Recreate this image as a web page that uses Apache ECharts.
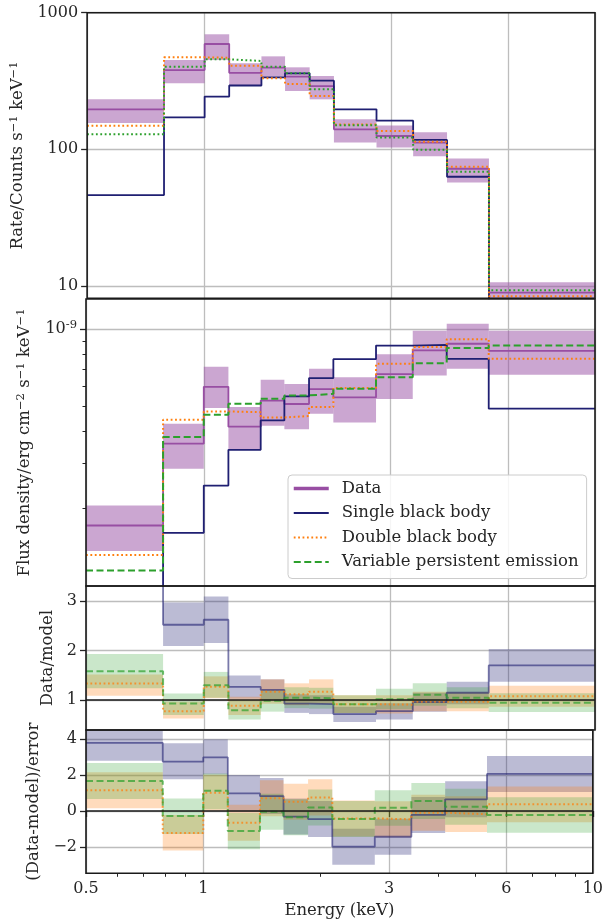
<!DOCTYPE html>
<html>
<head>
<meta charset="utf-8">
<script src="https://cdn.jsdelivr.net/npm/echarts@6/dist/echarts.min.js"></script>
<style>html,body{margin:0;padding:0;background:#fff}#c{width:606px;height:923px}</style>
</head>
<body>
<div id="c"></div>
<script>
// ---- Data ----
const EDGES = [0.5, 0.787, 1.0, 1.156, 1.398, 1.607, 1.858, 2.144, 2.756, 3.421, 4.178, 5.35, 10];
const X_TICKS = [0.5, 1, 3, 6, 10];
const X_MINOR = [0.6, 0.7, 0.8, 0.9, 2, 4, 5, 7, 8, 9];

// Panel 1: rate (counts s^-1 keV^-1)
const RATE_DATA    = [196, 380, 590, 363, 396, 340, 290, 140, 125, 112, 72, 8.9];
const RATE_DATA_LO = [156, 304, 450, 295, 340, 267, 232, 112, 103, 89, 57.2, 7.0];
const RATE_DATA_HI = [232, 450, 695, 426, 479, 398, 344, 166, 149, 133, 85.7, 10.6];
const RATE_SB = [46.2, 171, 243, 293, 336, 360, 318, 196, 162, 117, 62.9, 5.3];
const RATE_DB = [148.6, 471, 468, 409, 331, 301, 245, 152, 136, 113.5, 74.5, 8.4];
const RATE_VP = [129, 402, 456, 443, 402, 360, 275, 150, 122, 99, 68.4, 9.29];
const RATE_TICKS = [10, 100, 1000];

// Panel 2: flux density (erg cm^-2 s^-1 keV^-1)
const FLUX_DATA    = [1.72e-10, 3.58e-10, 5.96e-10, 4.17e-10, 5.27e-10, 5.11e-10, 5.84e-10, 5.42e-10, 6.68e-10, 8.26e-10, 8.77e-10, 8.23e-10];
const FLUX_DATA_LO = [1.37e-10, 2.86e-10, 4.93e-10, 3.39e-10, 4.21e-10, 4.08e-10, 4.68e-10, 4.33e-10, 5.34e-10, 6.60e-10, 7.01e-10, 6.64e-10];
const FLUX_DATA_HI = [2.06e-10, 4.28e-10, 7.13e-10, 4.97e-10, 6.35e-10, 6.11e-10, 7.01e-10, 6.50e-10, 7.99e-10, 9.85e-10, 1.049e-9, 9.85e-10];
const FLUX_SB = [4.1e-11, 1.61e-10, 2.46e-10, 3.39e-10, 4.41e-10, 5.47e-10, 6.45e-10, 7.64e-10, 8.63e-10, 8.69e-10, 7.66e-10, 4.90e-10];
const FLUX_DB = [1.32e-10, 4.44e-10, 4.78e-10, 4.75e-10, 4.53e-10, 4.59e-10, 4.97e-10, 5.90e-10, 7.33e-10, 8.51e-10, 9.14e-10, 7.66e-10];
const FLUX_VP = [1.15e-10, 3.80e-10, 4.64e-10, 5.12e-10, 5.36e-10, 5.52e-10, 5.60e-10, 5.86e-10, 6.50e-10, 7.37e-10, 8.44e-10, 8.63e-10];
const FLUX_TICKS = [1e-9];
const FLUX_MINOR = [2e-10, 3e-10, 4e-10, 5e-10, 6e-10, 7e-10, 8e-10, 9e-10];

// Panel 3: data/model
const RATIO_SB    = [4.2, 2.52, 2.62, 1.27, 1.21, 0.93, 0.92, 0.72, 0.78, 0.96, 1.15, 1.70];
const RATIO_SB_LO = [3.4, 2.09, 2.15, 1.03, 1.00, 0.745, 0.72, 0.56, 0.61, 0.77, 0.92, 1.37];
const RATIO_SB_HI = [5.0, 2.97, 3.09, 1.50, 1.42, 1.12, 1.10, 0.87, 0.94, 1.15, 1.37, 2.03];
const RATIO_DB    = [1.336, 0.78, 1.27, 0.89, 1.17, 1.12, 1.17, 0.92, 0.91, 0.97, 0.97, 1.08];
const RATIO_DB_LO = [1.09, 0.63, 1.04, 0.70, 0.93, 0.90, 0.93, 0.74, 0.73, 0.78, 0.78, 0.87];
const RATIO_DB_HI = [1.52, 0.97, 1.48, 1.07, 1.42, 1.34, 1.42, 1.10, 1.10, 1.17, 1.16, 1.29];
const RATIO_VP    = [1.584, 0.933, 1.30, 0.80, 0.99, 1.05, 1.04, 0.92, 1.02, 1.11, 1.05, 0.95];
const RATIO_VP_LO = [1.24, 0.70, 1.05, 0.61, 0.77, 0.84, 0.83, 0.74, 0.82, 0.89, 0.84, 0.76];
const RATIO_VP_HI = [1.93, 1.135, 1.57, 1.00, 1.20, 1.26, 1.25, 1.10, 1.23, 1.34, 1.26, 1.14];
const RATIO_TICKS = [1, 2, 3];

// Panel 4: (data-model)/error
const RES_SB    = [3.79, 2.74, 2.98, 0.98, 0.83, -0.31, -0.45, -1.98, -1.43, -0.22, 0.65, 2.06];
const RES_SB_LO = [2.79, 1.76, 2.04, -0.02, -0.17, -1.31, -1.45, -2.98, -2.43, -1.22, -0.35, 1.06];
const RES_SB_HI = [4.79, 3.76, 3.98, 2.0, 1.83, 0.69, 0.55, -0.98, -0.43, 0.78, 1.65, 3.06];
const RES_DB    = [1.15, -1.22, 1.02, -0.65, 0.71, 0.52, 0.75, -0.41, -0.46, -0.09, -0.18, 0.38];
const RES_DB_LO = [0.15, -2.19, 0.02, -1.65, -0.29, -0.48, -0.25, -1.41, -1.46, -1.09, -1.16, -0.62];
const RES_DB_HI = [2.15, -0.22, 2.02, 0.35, 1.71, 1.52, 1.76, 0.59, 0.54, 0.91, 0.82, 1.36];
const RES_VP    = [1.67, -0.28, 1.13, -1.11, -0.04, -0.35, 0.2, -0.44, 0.18, 0.56, 0.24, -0.22];
const RES_VP_LO = [0.67, -1.28, 0.10, -2.12, -1.04, -1.35, -0.8, -1.44, -0.82, -0.44, -0.76, -1.21];
const RES_VP_HI = [2.67, 0.70, 2.08, -0.11, 0.96, 0.65, 1.2, 0.56, 1.15, 1.55, 1.24, 0.76];
const RES_TICKS = [-2, 0, 2, 4];

// ---- Styles ----
const FONT = 'DejaVu Serif';
const TXT = '#262626';
const C_DATA = '#984ea3', C_SB = '#1f1f72', C_DB = '#ff7f0e', C_VP = '#2ca02c';
const B_DATA = 'rgba(152,78,163,0.5)';
const B_SB = 'rgba(31,31,114,0.3)', B_DB = 'rgba(255,127,14,0.28)', B_VP = 'rgba(44,160,44,0.25)';
const L_SB = 'rgba(31,31,114,0.6)', L_DB = 'rgba(255,127,14,0.75)', L_VP = 'rgba(44,160,44,0.7)';
const DOT = [1.8, 2.6], DASH = [7, 3.5];
const GRIDC = '#bdbdbd';
const SUP = { fontFamily: FONT, fontSize: 11.5, color: TXT, verticalAlign: 'top', lineHeight: 20 };
const MAIN = { fontFamily: FONT, fontSize: 16.5, color: TXT, lineHeight: 20 };

function stepData(vals) { return EDGES.map((e, i) => [e, vals[Math.min(i, vals.length - 1)]]); }
function bandData(lo, hi) { return lo.map((l, i) => [EDGES[i], EDGES[i + 1], l, hi[i]]); }
function bandRender(color) {
  return function (params, api) {
    const a = api.coord([api.value(0), api.value(3)]);
    const b = api.coord([api.value(1), api.value(2)]);
    const cs = params.coordSys;
    const shape = echarts.graphic.clipRectByRect(
      { x: a[0], y: a[1], width: b[0] - a[0], height: b[1] - a[1] },
      { x: cs.x, y: cs.y, width: cs.width, height: cs.height });
    if (!shape) return;
    return { type: 'rect', shape: shape, style: { fill: color } };
  };
}
function band(k, lo, hi, color) {
  return { type: 'custom', xAxisIndex: k, yAxisIndex: k, silent: true, z: 1,
    renderItem: bandRender(color), encode: { x: [0, 1], y: [2, 3] }, data: bandData(lo, hi) };
}
function line(k, name, vals, color, width, type, z) {
  return { type: 'line', name: name, xAxisIndex: k, yAxisIndex: k, step: 'end', symbol: 'none', showSymbol: false,
    silent: true, z: z || 3, data: stepData(vals), itemStyle: { color: color },
    lineStyle: { color: color, width: width, type: type || 'solid' } };
}
const refLine = (v) => ({ silent: true, symbol: ['none', 'none'], label: { show: false }, animation: false,
  lineStyle: { color: '#1a1a1a', width: 1.6, type: 'solid' }, data: [{ yAxis: v }] });

const gridPos = [
  { top: 12.7, height: 285.6 },
  { top: 299, height: 287 },
  { top: 586, height: 144 },
  { top: 730, height: 143.3 }
];
const grids = gridPos.map(g => ({ left: 86, width: 509, top: g.top, height: g.height, show: true,
  borderColor: '#1a1a1a', borderWidth: 1.6, backgroundColor: 'transparent', z: 10 }));

const labelStyle = { fontFamily: FONT, fontSize: 16, color: TXT };
const nameStyle = { fontFamily: FONT, fontSize: 16.5, color: TXT };

const xAxes = [0, 1, 2, 3].map(k => ({
  type: 'log', logBase: 10, gridIndex: k, min: 0.5, max: 10,
  axisLine: { show: false },
  axisTick: { show: k === 3, customValues: X_TICKS, length: 6, lineStyle: { color: TXT, width: 1.3 } },
  axisLabel: { show: k === 3, customValues: X_TICKS, margin: 8, ...labelStyle,
    formatter: v => String(+(+v).toPrecision(3)) },
  splitLine: { show: true, lineStyle: { color: GRIDC, width: 1.3 } },
  name: k === 3 ? 'Energy (keV)' : '', nameLocation: 'middle', nameGap: 29, nameTextStyle: nameStyle
}));
xAxes.push({
  type: 'log', logBase: 10, gridIndex: 3, min: 0.5, max: 10, position: 'bottom',
  axisLine: { show: false }, axisLabel: { show: false }, splitLine: { show: false },
  axisTick: { show: true, customValues: X_MINOR, length: 3.5, lineStyle: { color: TXT, width: 1 } }
});

function yAxis(k, opt) {
  return Object.assign({
    gridIndex: k, axisLine: { show: false },
    axisTick: { show: true, customValues: opt.ticks, length: 6, lineStyle: { color: TXT, width: 1.3 } },
    axisLabel: { customValues: opt.ticks, margin: 9, ...labelStyle, formatter: opt.fmt,
      rich: { m: { fontFamily: FONT, fontSize: 16, color: TXT, lineHeight: 20 },
              s: { fontFamily: FONT, fontSize: 11.5, color: TXT, verticalAlign: 'top', lineHeight: 20 } } },
    splitLine: { show: true, lineStyle: { color: GRIDC, width: 1.3 } },
    nameLocation: 'middle', nameRotate: 90,
    nameTextStyle: Object.assign({}, nameStyle, { rich: { m: MAIN, s: SUP } })
  }, opt.extra);
}
const yAxes = [
  yAxis(0, { ticks: RATE_TICKS, fmt: v => String(Math.round(v)),
    extra: { type: 'log', logBase: 10, min: 8.1, max: 1000,
      name: '{m|Rate/Counts s}{s|\u22121}{m| keV}{s|\u22121}', nameGap: 58 } }),
  yAxis(1, { ticks: FLUX_TICKS, fmt: () => '{m|10}{s|-9}',
    extra: { type: 'log', logBase: 10, min: 1e-10, max: 1.31e-9,
      name: '{m|Flux density/erg cm}{s|\u22122}{m| s}{s|\u22121}{m| keV}{s|\u22121}', nameGap: 51 } }),
  yAxis(2, { ticks: RATIO_TICKS, fmt: v => String(v),
    extra: { type: 'value', min: 0.4, max: 3.3, name: 'Data/model', nameGap: 26 } }),
  yAxis(3, { ticks: RES_TICKS, fmt: v => (v < 0 ? '\u2212' + (-v) : String(v)),
    extra: { type: 'value', min: -3.46, max: 4.5, name: '(Data-model)/error', nameGap: 42 } })
];
yAxes.push({
  type: 'log', logBase: 10, gridIndex: 1, min: 1e-10, max: 1.31e-9, position: 'left',
  axisLine: { show: false }, axisLabel: { show: false }, splitLine: { show: false },
  axisTick: { show: true, customValues: FLUX_MINOR, length: 3.5, lineStyle: { color: TXT, width: 1 } }
});

const series = [
  // Panel 1
  band(0, RATE_DATA_LO, RATE_DATA_HI, B_DATA),
  line(0, 'p1 data', RATE_DATA, C_DATA, 1.8),
  line(0, 'p1 sb', RATE_SB, C_SB, 1.8),
  line(0, 'p1 db', RATE_DB, C_DB, 2, DOT),
  line(0, 'p1 vp', RATE_VP, C_VP, 2, DOT),
  // Panel 2
  band(1, FLUX_DATA_LO, FLUX_DATA_HI, B_DATA),
  line(1, 'Data', FLUX_DATA, C_DATA, 1.8),
  line(1, 'Single black body', FLUX_SB, C_SB, 1.8),
  line(1, 'Double black body', FLUX_DB, C_DB, 2, DOT),
  line(1, 'Variable persistent emission', FLUX_VP, C_VP, 2, DASH),
  // Panel 3
  band(2, RATIO_SB_LO, RATIO_SB_HI, B_SB),
  band(2, RATIO_DB_LO, RATIO_DB_HI, B_DB),
  band(2, RATIO_VP_LO, RATIO_VP_HI, B_VP),
  Object.assign(line(2, 'p3 sb', RATIO_SB, L_SB, 1.8), { markLine: refLine(1) }),
  line(2, 'p3 db', RATIO_DB, L_DB, 2, DOT),
  line(2, 'p3 vp', RATIO_VP, L_VP, 2, DASH),
  // Panel 4
  band(3, RES_SB_LO, RES_SB_HI, B_SB),
  band(3, RES_DB_LO, RES_DB_HI, B_DB),
  band(3, RES_VP_LO, RES_VP_HI, B_VP),
  Object.assign(line(3, 'p4 sb', RES_SB, L_SB, 1.8), { markLine: refLine(0) }),
  line(3, 'p4 db', RES_DB, L_DB, 2, DOT),
  line(3, 'p4 vp', RES_VP, L_VP, 2, DASH)
];

const chart = echarts.init(document.getElementById('c'), null, { renderer: 'canvas' });
chart.setOption({
  animation: false,
  backgroundColor: '#fff',
  grid: grids,
  xAxis: xAxes,
  yAxis: yAxes,
  legend: {
    orient: 'vertical', left: 288, top: 475, selectedMode: false,
    data: [{ name: 'Data', lineStyle: { width: 3.5 } }, 'Single black body', 'Double black body', 'Variable persistent emission'],
    itemWidth: 35, itemHeight: 12, itemGap: 7.5, padding: [5, 8, 8, 4],
    backgroundColor: 'rgba(255,255,255,0.85)', borderColor: '#cccccc', borderWidth: 1, borderRadius: 4,
    itemStyle: { opacity: 0 },
    textStyle: { fontFamily: FONT, fontSize: 16.5, color: TXT, padding: [0, 0, 0, 8] }
  },
  series: series
});
</script>
</body>
</html>
